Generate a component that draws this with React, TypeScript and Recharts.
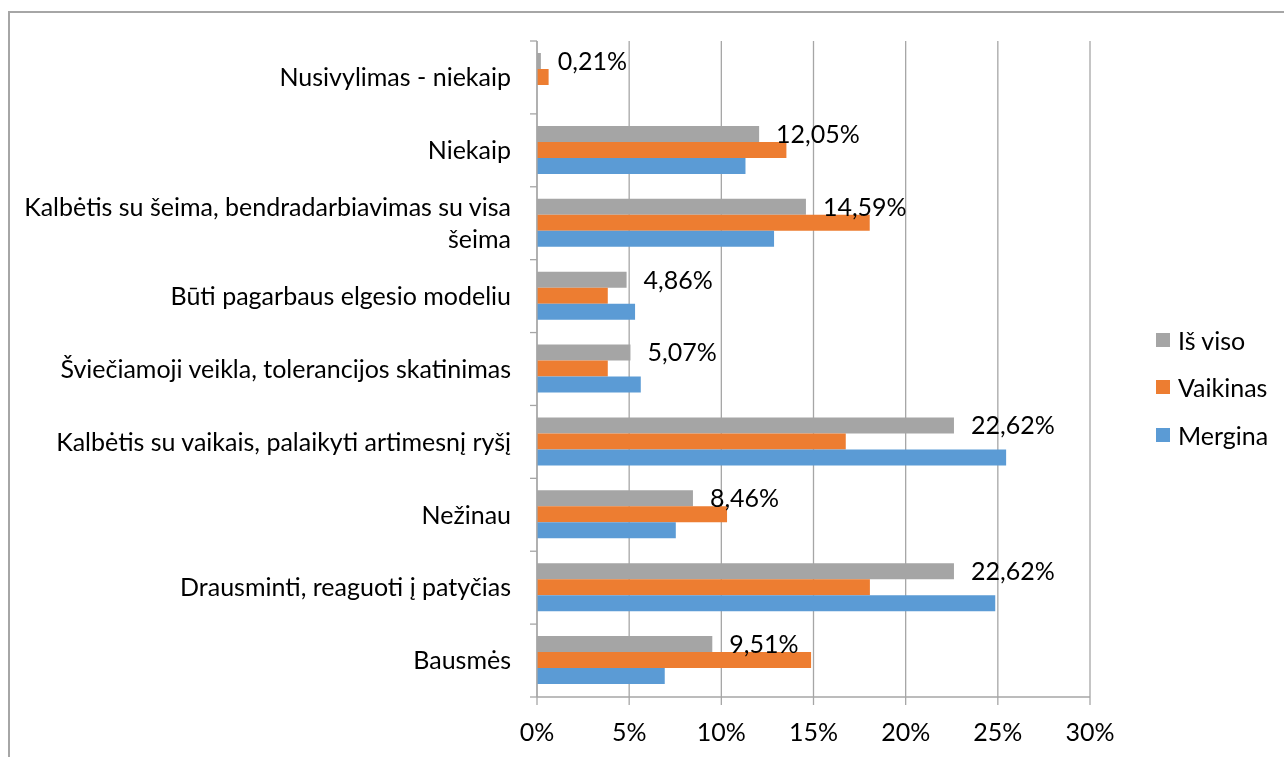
import React from "react";
import { BarChart, Bar, XAxis, YAxis, CartesianGrid, Legend, LabelList } from "recharts";

const categories = [
  "Nusivylimas - niekaip",
  "Niekaip",
  "Kalbėtis su šeima, bendradarbiavimas su visa šeima",
  "Būti pagarbaus elgesio modeliu",
  "Šviečiamoji veikla, tolerancijos skatinimas",
  "Kalbėtis su vaikais, palaikyti artimesnį ryšį",
  "Nežinau",
  "Drausminti, reaguoti į patyčias",
  "Bausmės",
];
const seriesNames = ["Iš viso", "Vaikinas", "Mergina"];
const isViso = [0.21, 12.05, 14.59, 4.86, 5.07, 22.62, 8.46, 22.62, 9.51];
const vaikinas = [0.63, 13.53, 18.05, 3.84, 3.84, 16.75, 10.31, 18.06, 14.87];
const mergina = [0, 11.31, 12.86, 5.32, 5.63, 25.45, 7.53, 24.86, 6.93];
const xTicks = [0, 5, 10, 15, 20, 25, 30];

const W = 1284;
const H = 757;
const M = { top: 41, right: 194, bottom: 0, left: 0 };
const Y_AXIS_W = 537;
const X_AXIS_H = 60;
const PLOT_H = H - M.top - M.bottom - X_AXIS_H;
const FONT = "Lato, 'Open Sans', sans-serif";
const FS = 25;
const GRID = "#a6a6a6";
const LABEL_GAP = 26;
const TICK_LEN = 7;

const data = categories.map((c, i) => ({
  name: c,
  isViso: isViso[i],
  vaikinas: vaikinas[i],
  mergina: mergina[i],
}));

function splitLabel(s: string): string[] {
  if (s.length <= 45) return [s];
  const idx = s.lastIndexOf(" ");
  return [s.slice(0, idx), s.slice(idx + 1)];
}

function CategoryTick(props: any) {
  const { x, y, payload, index } = props;
  const band = PLOT_H / categories.length;
  const lines = splitLabel(String(payload.value));
  const lh = 32;
  const axisX = x + LABEL_GAP;
  const startY = y - ((lines.length - 1) * lh) / 2;
  return (
    <g>
      <line x1={axisX - TICK_LEN} x2={axisX} y1={y - band / 2} y2={y - band / 2} stroke={GRID} strokeWidth={1.3} />
      {index === categories.length - 1 && (
        <line x1={axisX - TICK_LEN} x2={axisX} y1={y + band / 2} y2={y + band / 2} stroke={GRID} strokeWidth={1.3} />
      )}
      <text x={x} textAnchor="end" fontFamily={FONT} fontSize={FS} fill="#000">
        {lines.map((l, i) => (
          <tspan key={i} x={x} y={startY + i * lh} dy="0.35em">
            {l}
          </tspan>
        ))}
      </text>
    </g>
  );
}

function LegendContent(props: any) {
  const { payload } = props;
  return (
    <div style={{ fontFamily: FONT, fontSize: FS, color: "#000" }}>
      {(payload || []).map((p: any, i: number) => (
        <div key={i} style={{ display: "flex", alignItems: "center", height: 47.5 }}>
          <span style={{ display: "inline-block", width: 14, height: 14, background: p.color, marginRight: 8 }} />
          <span>{p.value}</span>
        </div>
      ))}
    </div>
  );
}

const fmt = (v: any) => `${Number(v).toFixed(2).replace(".", ",")}%`;

export default function App() {
  return (
    <>
      <div
        style={{
          position: "fixed",
          left: 8,
          top: 11,
          width: W - 8,
          height: H - 11,
          boxSizing: "border-box",
          borderTop: `2px solid ${GRID}`,
          borderLeft: `2px solid ${GRID}`,
        }}
      />
      <div style={{ position: "fixed", left: 0, top: 0 }}>
        <BarChart
          width={W}
          height={H}
          data={data}
          layout="vertical"
          margin={M}
          barSize={16}
          barGap={0}
        >
          <CartesianGrid horizontal={false} vertical={true} stroke={GRID} strokeWidth={1.3} />
          <XAxis
            type="number"
            domain={[0, 30]}
            ticks={xTicks}
            interval={0}
            height={X_AXIS_H}
            tickFormatter={(v: number) => `${v}%`}
            axisLine={{ stroke: GRID, strokeWidth: 1.3 }}
            tickLine={{ stroke: GRID, strokeWidth: 1.3 }}
            tickSize={8}
            tickMargin={18}
            tick={{ fontFamily: FONT, fontSize: FS, fill: "#000" }}
          />
          <YAxis
            type="category"
            dataKey="name"
            width={Y_AXIS_W}
            interval={0}
            axisLine={{ stroke: GRID, strokeWidth: 1.3 }}
            tickLine={false}
            tickSize={0}
            tickMargin={LABEL_GAP}
            tick={<CategoryTick />}
          />
          <Legend
            layout="vertical"
            align="center"
            verticalAlign="middle"
            itemSorter={(item: any) => seriesNames.indexOf(item.value)}
            content={<LegendContent />}
            wrapperStyle={{ left: 1156, top: 316, width: 128 }}
          />
          <Bar dataKey="isViso" name={seriesNames[0]} fill="#A5A5A5" isAnimationActive={false}>
            <LabelList
              dataKey="isViso"
              position="right"
              offset={17}
              formatter={fmt}
              fontFamily={FONT}
              fontSize={FS}
              fill="#000"
            />
          </Bar>
          <Bar dataKey="vaikinas" name={seriesNames[1]} fill="#ED7D31" isAnimationActive={false} />
          <Bar dataKey="mergina" name={seriesNames[2]} fill="#5B9BD5" isAnimationActive={false} />
        </BarChart>
      </div>
    </>
  );
}
